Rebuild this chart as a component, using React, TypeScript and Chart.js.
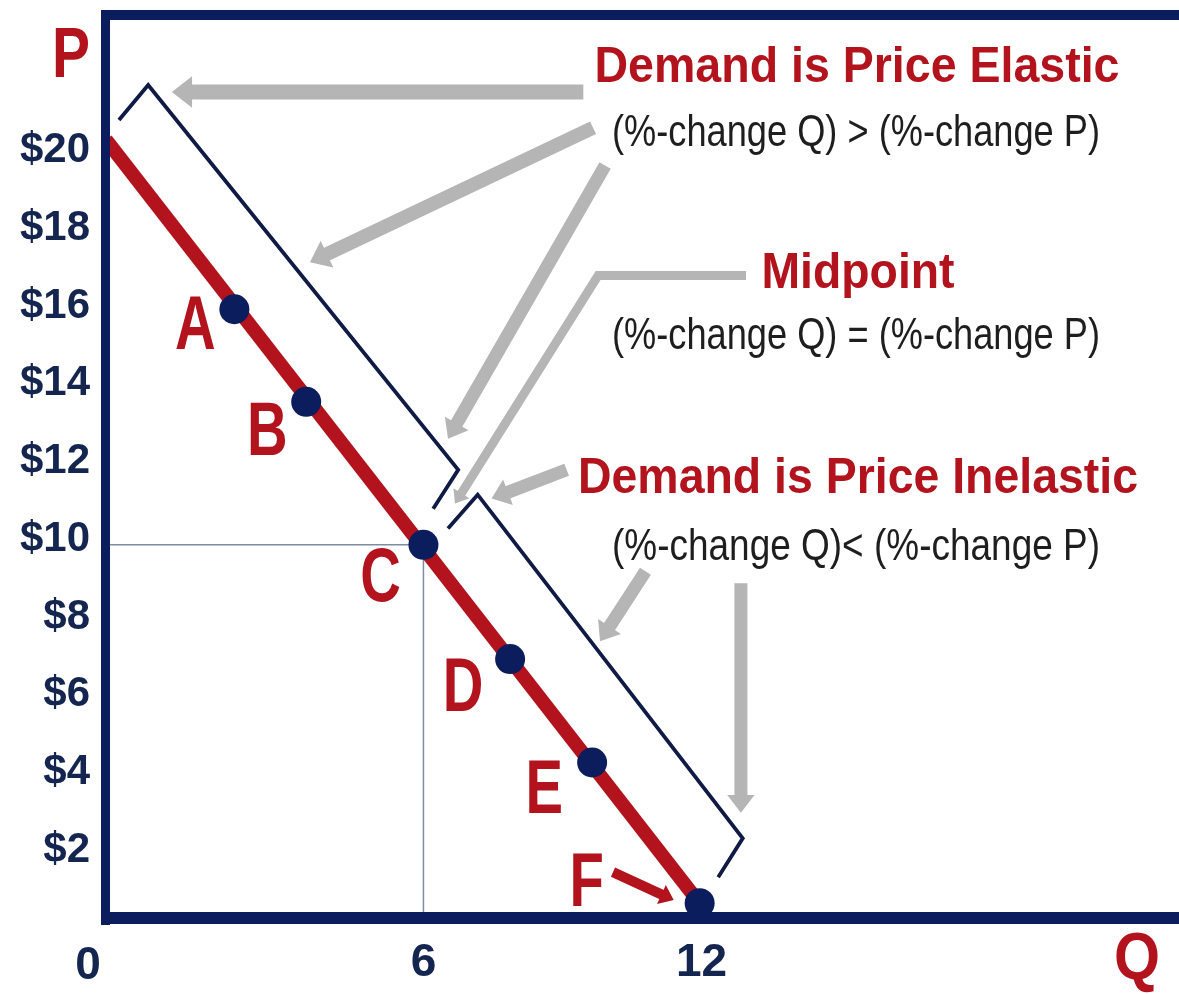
import React, { useEffect, useRef } from "react";
import { Chart, registerables } from "chart.js";

Chart.register(...registerables);

// ---------------- data ----------------
const POINT_LABELS = ["A", "B", "C", "D", "E", "F"];
const POINT_Q = [1.92, 3.47, 6.0, 7.87, 9.64, 11.96];
const POINT_P = [15.92, 13.54, 9.86, 6.92, 4.26, 0.64];

const DEMAND_Q = [-0.85, 11.96];
const DEMAND_P = [20.28, 0.64];

const MID_Q = 6;
const MID_P = 9.86;

const Y_TICKS = [2, 4, 6, 8, 10, 12, 14, 16, 18, 20];
const X_TICKS = [6, 12];

const X_MIN = -0.85;
const X_MAX = 21.98;
const Y_MIN = 0.26;
const Y_MAX = 23.49;

// ---------------- styles ----------------
const FONT = '"Liberation Sans", Arial, Helvetica, sans-serif';
const RED = "#b3131c";
const NAVY = "#0b1d5c";
const NAVY_TXT = "#14254f";
const BRACKET = "#0f1b45";
const GREY = "#b5b5b5";
const TEXT_DARK = "#1e1e1e";

// annotation geometry, in data units (Q, P)
const BRACKETS: [number, number][][] = [
  [[-0.57, 20.79], [0.06, 21.69], [6.75, 11.79], [6.21, 10.79]],
  [[6.53, 10.28], [7.17, 11.15], [12.89, 2.31], [12.36, 1.31]],
];

const GREY_ARROWS: { pts: [number, number][]; w: number }[] = [
  { pts: [[9.45, 21.51], [0.57, 21.51]], w: 15 },
  { pts: [[9.66, 20.59], [3.55, 17.13]], w: 14 },
  { pts: [[9.92, 19.62], [6.53, 12.59]], w: 13 },
  { pts: [[12.96, 16.79], [9.77, 16.79], [6.68, 10.92]], w: 9 },
  { pts: [[9.09, 11.79], [7.47, 11.05]], w: 13 },
  { pts: [[10.79, 9.18], [9.81, 7.38]], w: 13 },
  { pts: [[12.85, 8.87], [12.85, 2.97]], w: 13 },
];

const RED_ARROW: [number, number][] = [[10.09, 1.44], [11.4, 0.72]];

// label offsets (pixels) relative to the points: [dx, baseline dy]
const LABEL_OFFSETS: [number, number][] = [
  [-39, 40],
  [-39, 53],
  [-43, 56],
  [-47, 52],
  [-48, 50],
  [-113, 3],
];

type TextSpec = {
  text: string;
  cx: number;
  base: number;
  size: number;
  bold: boolean;
  color: string;
  width: number;
};

const TEXTS: TextSpec[] = [
  { text: "Demand is Price Elastic", cx: 857, base: 82, size: 50, bold: true, color: RED, width: 525 },
  { text: "(%-change Q) > (%-change P)", cx: 856, base: 146, size: 45, bold: false, color: TEXT_DARK, width: 488 },
  { text: "Midpoint", cx: 858, base: 288, size: 50, bold: true, color: RED, width: 193 },
  { text: "(%-change Q) = (%-change P)", cx: 856, base: 349, size: 45, bold: false, color: TEXT_DARK, width: 488 },
  { text: "Demand is Price Inelastic", cx: 858, base: 493, size: 50, bold: true, color: RED, width: 560 },
  { text: "(%-change Q)< (%-change P)", cx: 856, base: 560, size: 45, bold: false, color: TEXT_DARK, width: 488 },
  { text: "P", cx: 71, base: 77, size: 70, bold: true, color: RED, width: 38 },
  { text: "Q", cx: 1137, base: 979, size: 66, bold: true, color: RED, width: 46 },
];

function drawFitText(ctx: CanvasRenderingContext2D, t: TextSpec) {
  ctx.save();
  ctx.font = `${t.bold ? "bold " : ""}${t.size}px ${FONT}`;
  const w = ctx.measureText(t.text).width;
  const sx = t.width / w;
  ctx.translate(t.cx, t.base);
  ctx.scale(sx, 1);
  ctx.textAlign = "center";
  ctx.textBaseline = "alphabetic";
  ctx.fillStyle = t.color;
  ctx.fillText(t.text, 0, 0);
  ctx.restore();
}

function drawArrow(
  ctx: CanvasRenderingContext2D,
  pts: [number, number][],
  w: number,
  color: string
) {
  const n = pts.length;
  const [tx, ty] = pts[n - 1];
  const [px, py] = pts[n - 2];
  const ang = Math.atan2(ty - py, tx - px);
  const headL = w * 1.35;
  const headW = w * 2.1;
  const bx = tx - Math.cos(ang) * headL;
  const by = ty - Math.sin(ang) * headL;
  ctx.save();
  ctx.strokeStyle = color;
  ctx.fillStyle = color;
  ctx.lineWidth = w;
  ctx.lineCap = "butt";
  ctx.lineJoin = "miter";
  ctx.beginPath();
  ctx.moveTo(pts[0][0], pts[0][1]);
  for (let i = 1; i < n - 1; i++) ctx.lineTo(pts[i][0], pts[i][1]);
  ctx.lineTo(bx + Math.cos(ang) * 1, by + Math.sin(ang) * 1);
  ctx.stroke();
  const nx = -Math.sin(ang);
  const ny = Math.cos(ang);
  ctx.beginPath();
  ctx.moveTo(tx, ty);
  ctx.lineTo(bx + (nx * headW) / 2, by + (ny * headW) / 2);
  ctx.lineTo(bx - (nx * headW) / 2, by - (ny * headW) / 2);
  ctx.closePath();
  ctx.fill();
  ctx.restore();
}

const framePlugin = {
  id: "frame",
  afterDatasetsDraw(chart: any) {
    const { ctx, chartArea: ca } = chart;
    ctx.save();
    ctx.fillStyle = NAVY;
    ctx.fillRect(ca.left - 5, ca.top - 5, 9, ca.bottom - ca.top + 12);
    ctx.fillRect(ca.left - 5, ca.top - 5, chart.width - ca.left + 10, 10);
    ctx.fillRect(ca.left - 5, ca.bottom - 6, chart.width - ca.left + 10, 12);
    ctx.restore();
  },
};

const annotationPlugin = {
  id: "annotations",
  afterDraw(chart: any) {
    const { ctx } = chart;
    const xs = chart.scales.x;
    const ys = chart.scales.y;
    const toPx = (p: [number, number]): [number, number] => [
      xs.getPixelForValue(p[0]),
      ys.getPixelForValue(p[1]),
    ];

    // brackets
    ctx.save();
    ctx.strokeStyle = BRACKET;
    ctx.lineWidth = 3.8;
    ctx.lineJoin = "miter";
    ctx.lineCap = "butt";
    BRACKETS.forEach((b) => {
      ctx.beginPath();
      b.forEach((p, i) => {
        const [x, y] = toPx(p);
        if (i === 0) ctx.moveTo(x, y);
        else ctx.lineTo(x, y);
      });
      ctx.stroke();
    });
    ctx.restore();

    // grey arrows
    GREY_ARROWS.forEach((a) => drawArrow(ctx, a.pts.map(toPx), a.w, GREY));
    // red arrow to F
    drawArrow(ctx, RED_ARROW.map(toPx), 10, RED);

    // texts
    TEXTS.forEach((t) => drawFitText(ctx, t));

    // origin label
    ctx.save();
    ctx.font = `bold 46px ${FONT}`;
    ctx.fillStyle = NAVY_TXT;
    ctx.textAlign = "center";
    ctx.textBaseline = "alphabetic";
    ctx.fillText("0", 88, 979);
    ctx.restore();

    // point labels
    POINT_LABELS.forEach((lab, i) => {
      const x = xs.getPixelForValue(POINT_Q[i]);
      const y = ys.getPixelForValue(POINT_P[i]);
      const [dx, dy] = LABEL_OFFSETS[i];
      ctx.save();
      ctx.font = `bold 76px ${FONT}`;
      ctx.translate(x + dx, y + dy);
      ctx.scale(0.74, 1);
      ctx.textAlign = "center";
      ctx.textBaseline = "alphabetic";
      ctx.fillStyle = RED;
      ctx.fillText(lab, 0, 0);
      ctx.restore();
    });
  },
};

const zeroPadding = (s: any) => {
  s.paddingTop = 0;
  s.paddingBottom = 0;
  s.paddingLeft = 0;
  s.paddingRight = 0;
};

export default function App() {
  const ref = useRef<HTMLCanvasElement>(null);

  useEffect(() => {
    document.body.style.margin = "0";
    document.documentElement.style.overflow = "hidden";
    document.body.style.overflow = "hidden";
    const canvas = ref.current;
    if (!canvas) return;

    const demandData = DEMAND_Q.map((q, i) => ({ x: q, y: DEMAND_P[i] }));
    const pointsData = POINT_Q.map((q, i) => ({ x: q, y: POINT_P[i] }));
    const guideData = [
      { x: X_MIN, y: MID_P },
      { x: MID_Q, y: MID_P },
      { x: MID_Q, y: Y_MIN },
    ];

    const chart = new Chart(canvas, {
      type: "scatter",
      data: {
        datasets: [
          {
            label: "guide",
            data: guideData,
            showLine: true,
            borderColor: "#7f8ca3",
            borderWidth: 1.5,
            pointRadius: 0,
            order: 3,
          },
          {
            label: "demand",
            data: demandData,
            showLine: true,
            borderColor: RED,
            borderWidth: 14,
            borderCapStyle: "butt",
            pointRadius: 0,
            order: 2,
          },
          {
            label: "points",
            data: pointsData,
            showLine: false,
            pointRadius: 15,
            pointBackgroundColor: NAVY,
            pointBorderColor: NAVY,
            pointBorderWidth: 0,
            order: 1,
            clip: false,
          },
        ] as any,
      },
      options: {
        animation: false,
        responsive: false,
        events: [],
        layout: { padding: { top: 12, left: 0, right: 0, bottom: 0 } },
        plugins: {
          legend: { display: false },
          tooltip: { enabled: false },
        },
        scales: {
          x: {
            type: "linear",
            min: X_MIN,
            max: X_MAX,
            afterFit: (s: any) => {
              s.height = 76;
              zeroPadding(s);
            },
            afterBuildTicks: (a: any) => {
              a.ticks = X_TICKS.map((v) => ({ value: v }));
            },
            grid: { display: false, drawTicks: false },
            border: { display: false },
            ticks: {
              autoSkip: false,
              maxRotation: 0,
              padding: 18,
              color: NAVY_TXT,
              font: { family: FONT, size: 46, weight: "bold" },
              callback: (v: any) => String(v),
            },
          },
          y: {
            type: "linear",
            min: Y_MIN,
            max: Y_MAX,
            afterFit: (s: any) => {
              s.width = 106;
              zeroPadding(s);
            },
            afterBuildTicks: (a: any) => {
              a.ticks = Y_TICKS.map((v) => ({ value: v }));
            },
            grid: { display: false, drawTicks: false },
            border: { display: false },
            ticks: {
              autoSkip: false,
              padding: 16,
              color: NAVY_TXT,
              font: { family: FONT, size: 42, weight: "bold" },
              callback: (v: any) => "$" + v,
            },
          },
        },
      } as any,
      plugins: [framePlugin, annotationPlugin],
    });

    return () => chart.destroy();
  }, []);

  return (
    <div
      style={{
        position: "fixed",
        left: 0,
        top: 0,
        width: 1179,
        height: 994,
        background: "#fff",
        overflow: "hidden",
      }}
    >
      <canvas ref={ref} width={1179} height={994} style={{ display: "block" }} />
    </div>
  );
}
